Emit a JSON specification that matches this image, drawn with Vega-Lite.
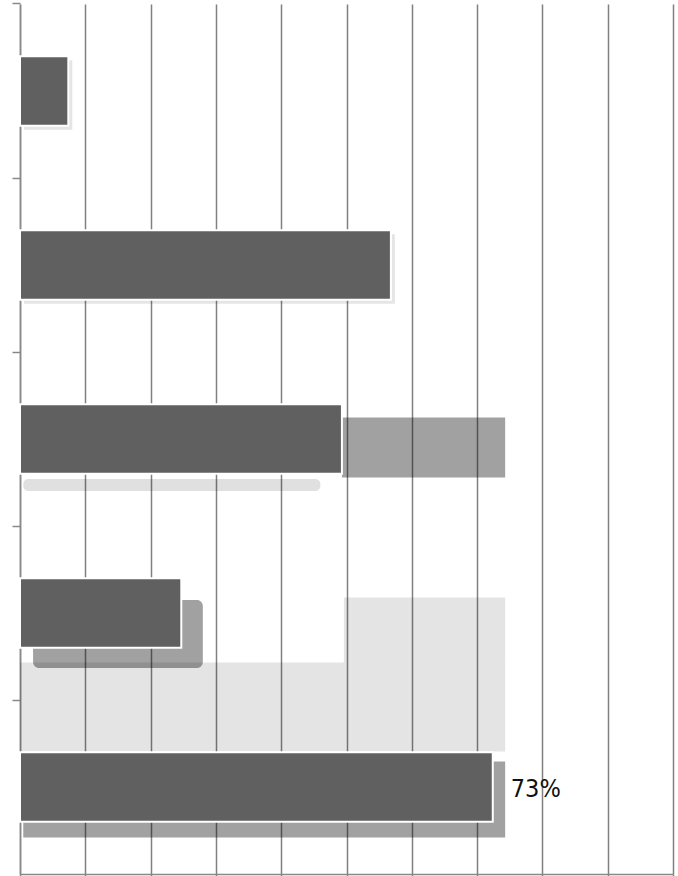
{
  "$schema": "https://vega.github.io/schema/vega-lite/v6.json",
  "autosize": "none",
  "width": 653,
  "height": 870,
  "padding": {"left": 20, "top": 4, "right": 5, "bottom": 2},
  "background": "white",
  "config": {"view": {"stroke": null}},
  "datasets": {
    "bars": [
      {"cat": "A", "value": 7.4, "label": ""},
      {"cat": "B", "value": 56.8, "label": ""},
      {"cat": "C", "value": 49.3, "label": ""},
      {"cat": "D", "value": 24.7, "label": ""},
      {"cat": "E", "value": 72.4, "label": "73%"}
    ],
    "shade": [
      {"cat": "C", "x0": 49.3, "x1": 74.3, "kind": "cbox"},
      {"cat": "C", "x0": 0.5, "x1": 46, "kind": "cstrip"},
      {"cat": "D", "x0": 49.6, "x1": 74.3, "kind": "dtop"},
      {"cat": "D", "x0": 0, "x1": 74.3, "kind": "dlow"},
      {"cat": "D", "x0": 2, "x1": 28, "kind": "dshadow"},
      {"cat": "E", "x0": 0.5, "x1": 74.3, "kind": "eshadow"}
    ]
  },
  "encoding": {
    "y": {"field": "cat", "type": "nominal", "sort": ["A", "B", "C", "D", "E"],
      "scale": {"domain": ["A", "B", "C", "D", "E"], "paddingInner": 0.6, "paddingOuter": 0.3},
      "axis": {"title": null, "labels": false, "grid": false, "bandPosition": -0.75,
        "domainColor": "#888888", "domainWidth": 1.5, "tickColor": "#888888", "tickWidth": 1.5, "tickSize": 8}}
  },
  "layer": [
    {
      "data": {"name": "shade"},
      "transform": [{"filter": "datum.kind === 'cbox'"}],
      "mark": {"type": "bar", "color": "black", "opacity": 0.37, "height": 60, "yOffset": 8.6},
      "encoding": {
        "x": {"field": "x0", "type": "quantitative", "scale": {"domain": [0, 100], "nice": false},
          "axis": {"title": null, "labels": false, "values": [0,10,20,30,40,50,60,70,80,90,100],
            "grid": true, "gridColor": "#808080", "gridWidth": 1.5, "gridOpacity": 1,
            "domainColor": "#888888", "domainWidth": 1.5, "tickColor": "#808080", "tickWidth": 1.5, "tickSize": 3}},
        "x2": {"field": "x1"}
      }
    },
    {
      "data": {"name": "shade"},
      "transform": [{"filter": "datum.kind === 'cstrip'"}],
      "mark": {"type": "bar", "color": "black", "opacity": 0.12, "height": 12, "yOffset": 46, "cornerRadius": 5},
      "encoding": {"x": {"field": "x0", "type": "quantitative"}, "x2": {"field": "x1"}}
    },
    {
      "data": {"name": "shade"},
      "transform": [{"filter": "datum.kind === 'dtop'"}],
      "mark": {"type": "bar", "color": "black", "opacity": 0.106, "height": 65, "yOffset": 17},
      "encoding": {"x": {"field": "x0", "type": "quantitative"}, "x2": {"field": "x1"}}
    },
    {
      "data": {"name": "shade"},
      "transform": [{"filter": "datum.kind === 'dlow'"}],
      "mark": {"type": "bar", "color": "black", "opacity": 0.106, "height": 89, "yOffset": 94},
      "encoding": {"x": {"field": "x0", "type": "quantitative"}, "x2": {"field": "x1"}}
    },
    {
      "data": {"name": "shade"},
      "transform": [{"filter": "datum.kind === 'dshadow'"}],
      "mark": {"type": "bar", "color": "black", "opacity": 0.37, "height": 68, "yOffset": 21, "cornerRadius": 6},
      "encoding": {"x": {"field": "x0", "type": "quantitative"}, "x2": {"field": "x1"}}
    },
    {
      "data": {"name": "shade"},
      "transform": [{"filter": "datum.kind === 'eshadow'"}],
      "mark": {"type": "bar", "color": "black", "opacity": 0.37, "height": 76, "yOffset": 12.6},
      "encoding": {"x": {"field": "x0", "type": "quantitative"}, "x2": {"field": "x1"}}
    },
    {
      "data": {"name": "bars"},
      "transform": [{"filter": "datum.cat === 'A' || datum.cat === 'B'"}],
      "mark": {"type": "bar", "color": "black", "opacity": 0.1, "xOffset": 4, "yOffset": 4},
      "encoding": {"x": {"field": "value", "type": "quantitative"}}
    },
    {
      "data": {"name": "bars"},
      "mark": {"type": "bar", "color": "#606060", "stroke": "white", "strokeWidth": 2},
      "encoding": {"x": {"field": "value", "type": "quantitative"}}
    },
    {
      "data": {"name": "bars"},
      "mark": {"type": "text", "align": "left", "baseline": "middle", "dx": 18, "dy": 2, "font": "DejaVu Sans Condensed", "fontSize": 25, "color": "#111111"},
      "encoding": {"x": {"field": "value", "type": "quantitative"}, "text": {"field": "label"}}
    }
  ]
}
